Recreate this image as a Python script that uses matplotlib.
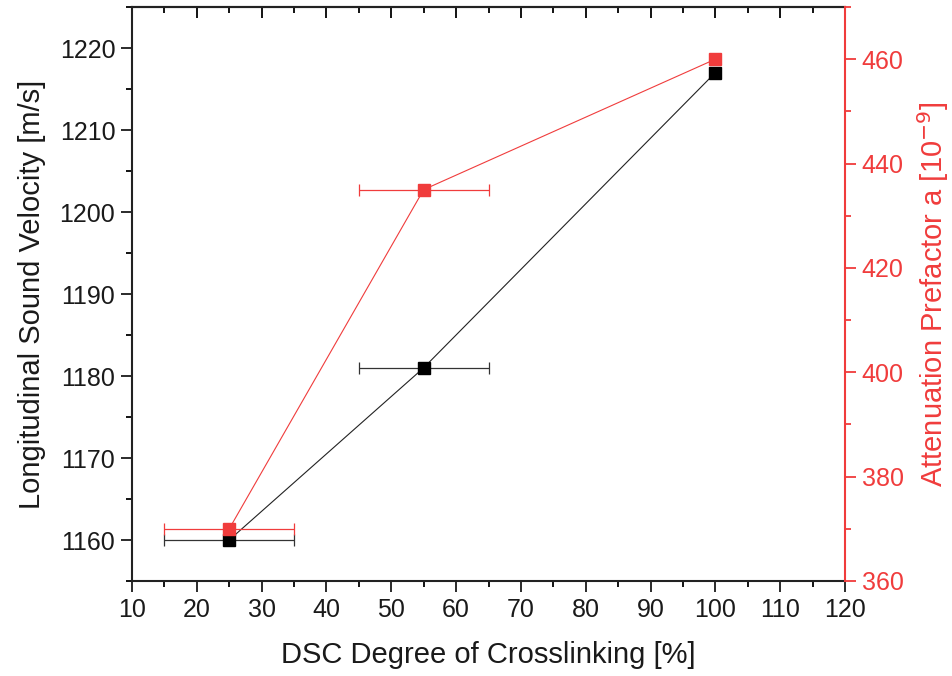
import matplotlib
matplotlib.use("Agg")
import matplotlib.pyplot as plt
from matplotlib.ticker import MultipleLocator

plt.rcParams['font.family'] = ['Liberation Sans', 'DejaVu Sans']

crosslinking = [25, 55, 100]
crosslinking_err = [10, 10, 0]
velocity = [1160, 1181, 1217]
prefactor = [370, 435, 460]

RED = '#F03C3C'
DARK = '#1a1a1a'

fig = plt.figure(figsize=(9.52, 6.76), dpi=100)
ax = fig.add_axes([132/952, 1-581/676, (845-132)/952, (581-7)/676])

ax.errorbar(crosslinking, velocity, xerr=crosslinking_err, color='#222222', lw=0.8,
            marker='s', ms=9, mfc='black', mec='black', ecolor='#333333', elinewidth=0.9,
            capsize=4, capthick=0.9, zorder=3)
ax.set_xlim(10, 120)
ax.set_ylim(1155, 1225)
ax.xaxis.set_major_locator(MultipleLocator(10))
ax.xaxis.set_minor_locator(MultipleLocator(5))
ax.yaxis.set_major_locator(MultipleLocator(10))
ax.yaxis.set_minor_locator(MultipleLocator(5))
ax.tick_params(which='major', direction='out', length=8, width=1.3, labelsize=18, colors=DARK, pad=4)
ax.tick_params(which='minor', direction='out', length=4.5, width=1.3)
for s in ['left', 'bottom', 'top']:
    ax.spines[s].set_linewidth(1.5)
    ax.spines[s].set_color('#222222')
ax.spines['right'].set_visible(False)
ax.set_xlabel('DSC Degree of Crosslinking [%]', fontsize=21, color=DARK, labelpad=14)
ax.set_ylabel('Longitudinal Sound Velocity [m/s]', fontsize=21, color=DARK, labelpad=10)

top = ax.secondary_xaxis('top')
top.xaxis.set_major_locator(MultipleLocator(10))
top.xaxis.set_minor_locator(MultipleLocator(5))
top.tick_params(which='major', direction='in', length=8, width=1.3, labeltop=False)
top.tick_params(which='minor', direction='in', length=4.5, width=1.3)
top.spines['top'].set_linewidth(1.5)
top.spines['top'].set_color('#222222')

ax2 = ax.twinx()
ax2.errorbar(crosslinking, prefactor, xerr=crosslinking_err, color=RED, lw=0.8,
             marker='s', ms=8, mfc=RED, mec=RED, ecolor=RED, elinewidth=0.9,
             capsize=4, capthick=0.9, zorder=3)
ax2.set_ylim(360, 470)
ax2.yaxis.set_major_locator(MultipleLocator(20))
ax2.yaxis.set_minor_locator(MultipleLocator(10))
ax2.tick_params(which='major', direction='out', length=8, width=1.3, labelsize=18, colors=RED, pad=4)
ax2.tick_params(which='minor', direction='out', length=4.5, width=1.3, colors=RED)
ax2.spines['right'].set_color(RED)
ax2.spines['right'].set_linewidth(1.5)
for s in ['left', 'top', 'bottom']:
    ax2.spines[s].set_visible(False)
ax2.set_ylabel('Attenuation Prefactor a [10$^{-9}$]', fontsize=21, color=RED, labelpad=8)

fig.savefig('out.png', dpi=100)
